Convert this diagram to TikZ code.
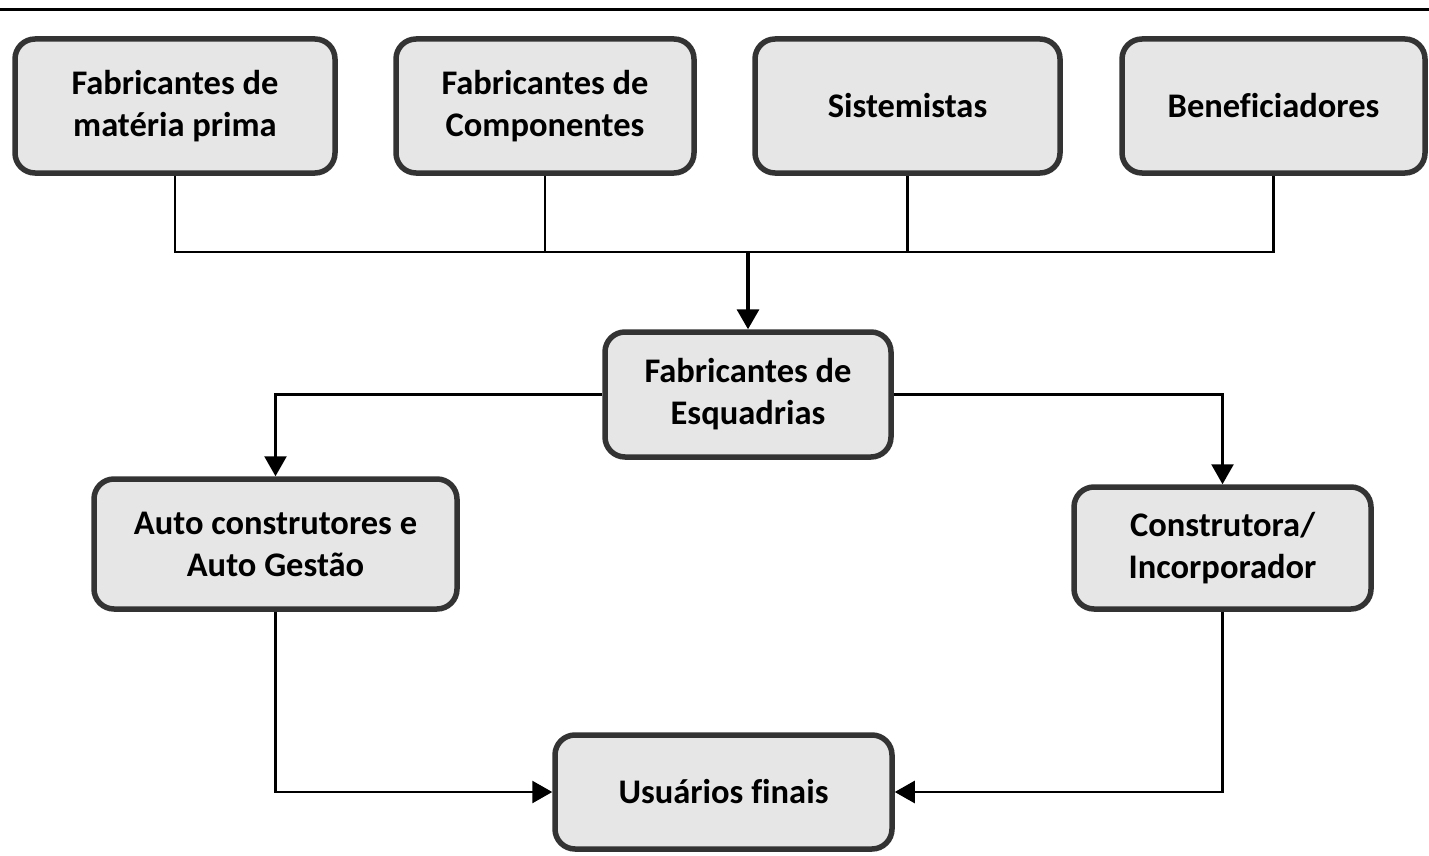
\documentclass[tikz,border=0pt]{standalone}
\usepackage{fontspec}
\setmainfont{Carlito}[Ligatures={NoCommon}]
\usetikzlibrary{arrows.meta}
\definecolor{boxfill}{HTML}{E6E6E6}
\definecolor{boxline}{HTML}{333333}
\begin{document}
\begin{tikzpicture}[x=1pt,y=-1pt,
  box/.style={draw=boxline, line width=5.5pt, fill=boxfill, rounded corners=20pt,
    align=center, inner sep=0pt, font=\fontsize{34.5}{42}\selectfont\bfseries},
  link/.style={line width=2.6pt, black},
  arr/.style={link, -{Triangle[length=20pt,width=22pt]}}]
\useasboundingbox (0,0) rectangle (1429,856);
\coordinate (tl) at (0,10);
\coordinate (tr) at (1429,10);
\draw[line width=3pt] (tl) -- (tr);
\node[box, minimum width=320pt, minimum height=134pt] (b1) at (175,106) {Fabricantes de\\matéria prima};
\node[box, minimum width=298pt, minimum height=134pt] (b2) at (545,106) {Fabricantes de\\Componentes};
\node[box, minimum width=305pt, minimum height=134pt] (b3) at (907.5,106) {Sistemistas};
\node[box, minimum width=303pt, minimum height=134pt] (b4) at (1273.5,106) {Beneficiadores};
\node[box, minimum width=286pt, minimum height=125pt] (esq) at (748,394.5) {Fabricantes de\\Esquadrias};
\node[box, minimum width=363pt, minimum height=130pt] (auto) at (275.5,544) {Auto construtores e\\Auto Gestão};
\node[box, minimum width=297pt, minimum height=122pt] (cons) at (1222.5,548) {Construtora/\\Incorporador};
\node[box, minimum width=337pt, minimum height=114pt] (usu) at (723.5,792) {Usuários finais};
\coordinate (j) at (748,252);
\draw[link] (b1.south) |- (j);
\draw[link] (b4.south) |- (j);
\draw[link] (b2.south) -- (b2.south |- j);
\draw[link] (b3.south) -- (b3.south |- j);
\draw[arr, line width=3.5pt] (j) -- (esq.north);
\draw[arr] (esq.west) -| (auto.north);
\draw[arr] (esq.east) -| (cons.north);
\draw[arr] (auto.south) |- (usu.west);
\draw[arr] (cons.south) |- (usu.east);
\end{tikzpicture}
\end{document}
